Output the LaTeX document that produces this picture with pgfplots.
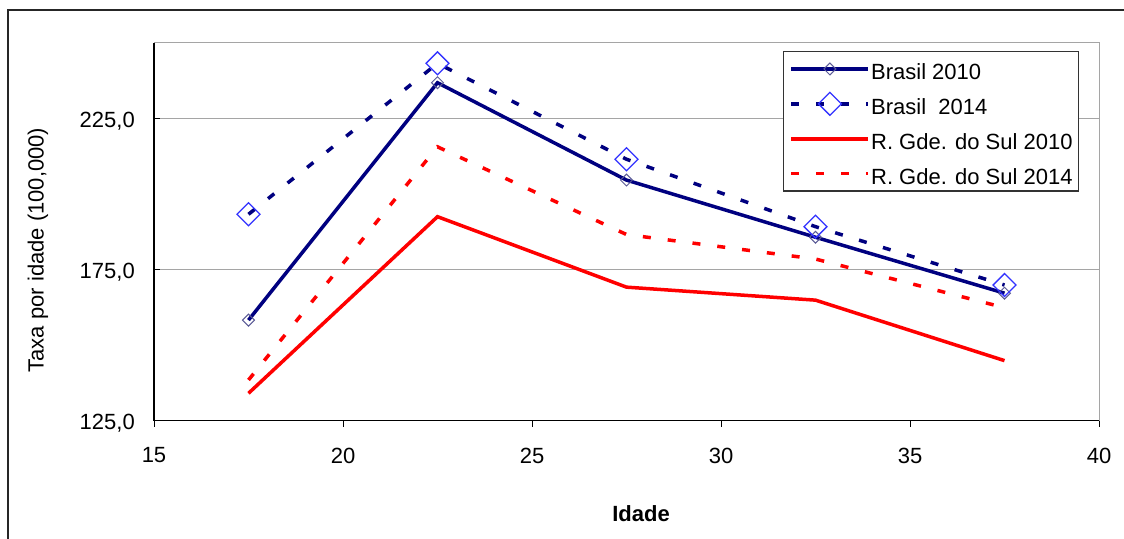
\documentclass[border=0pt]{standalone}
\usepackage{fontspec}
\setmainfont{Liberation Sans}
\usepackage{pgfplots}
\pgfplotsset{compat=1.18}
\definecolor{navy}{RGB}{0,0,128}
\definecolor{mblue}{RGB}{51,51,255}
\definecolor{mnavy}{RGB}{90,90,150}
\definecolor{gridgray}{RGB}{165,165,165}
\newcommand{\fs}{\fontsize{22bp}{26bp}\selectfont}
\begin{document}
\begin{tikzpicture}
\useasboundingbox (0,0) rectangle (1124bp,-539bp);
\fill[white] (0,0) rectangle (1124bp,-539bp);
\draw[line width=2bp, black!85] (8bp,-10bp) rectangle (1160bp,-580bp);
\begin{axis}[
  name=ax,
  at={(154bp,-420.5bp)}, anchor=south west,
  scale only axis, width=945bp, height=378bp,
  xmin=15, xmax=40, ymin=125, ymax=250,
  xtick={15,20,25,30,35,40}, ytick={125,175,225},
  tick pos=left, tick align=inside,
  major tick length=6bp,
  xtick style={yshift=-6bp},
  tick style={black, line width=1bp},
  ymajorgrids, grid style={gridgray, line width=1bp},
  axis line style={gridgray, line width=1bp},
  /pgf/number format/assume math mode=true,
  ticklabel style={font=\fs, inner sep=0pt},
  xticklabel style={anchor=north, yshift=-27bp},
  yticklabel style={anchor=base east, xshift=-19bp, yshift=-9.4bp,
    /pgf/number format/.cd, fixed, fixed zerofill, precision=1, use comma},
  legend image code/.code={\draw[mark repeat=2,mark phase=2,#1] plot coordinates {(0bp,0bp)(38.5bp,0bp)(77bp,0bp)};},
  legend cell align=left,
  legend style={at={(0.6656,0.9775)}, anchor=north west, draw=black!80, line width=1.3bp,
    fill=white, font=\fs, inner xsep=6bp, inner ysep=1.3bp, row sep=2.9bp,
    nodes={inner sep=0pt, text height=27bp, text depth=5bp},
    /tikz/every odd column/.append style={column sep=1bp}},
]
\addplot[navy, line width=3.5bp, mark=square, mark size=4.2bp,
  mark options={rotate=45, draw=mnavy, line width=1bp, fill=none, solid}]
  coordinates {(17.5,158.2) (22.5,236.7) (27.5,204.5) (32.5,185.6) (37.5,167.1)};
\addlegendentry{Brasil 2010}
\addplot[navy, line width=3.5bp, dash pattern=on 8bp off 17bp, mark=square, mark size=8.1bp,
  mark options={rotate=45, draw=mblue, line width=1.3bp, fill=none, solid}]
  coordinates {(17.5,193.2) (22.5,243.1) (27.5,211.4) (32.5,189.1) (37.5,169.8)};
\addlegendentry{Brasil~~2014}
\addplot[red, line width=3.5bp]
  coordinates {(17.5,134.0) (22.5,192.4) (27.5,169.1) (32.5,164.8) (37.5,144.8)};
\addlegendentry{R. Gde. do Sul 2010}
\addplot[red, line width=3.5bp, dash pattern=on 8bp off 17bp]
  coordinates {(17.5,138.4) (22.5,215.5) (27.5,186.5) (32.5,178.4) (37.5,162.3)};
\addlegendentry{R. Gde. do Sul 2014}
\end{axis}
\draw[black, line width=1.2bp] (ax.north west) -- (ax.south west) -- (ax.south east);
\node[rotate=90, font=\fs, inner sep=0pt] at (38bp,-250bp) {Taxa por idade (100,000)};
\node[font=\fs\bfseries, inner sep=0pt] at (641bp,-514bp) {Idade};
\end{tikzpicture}
\end{document}
